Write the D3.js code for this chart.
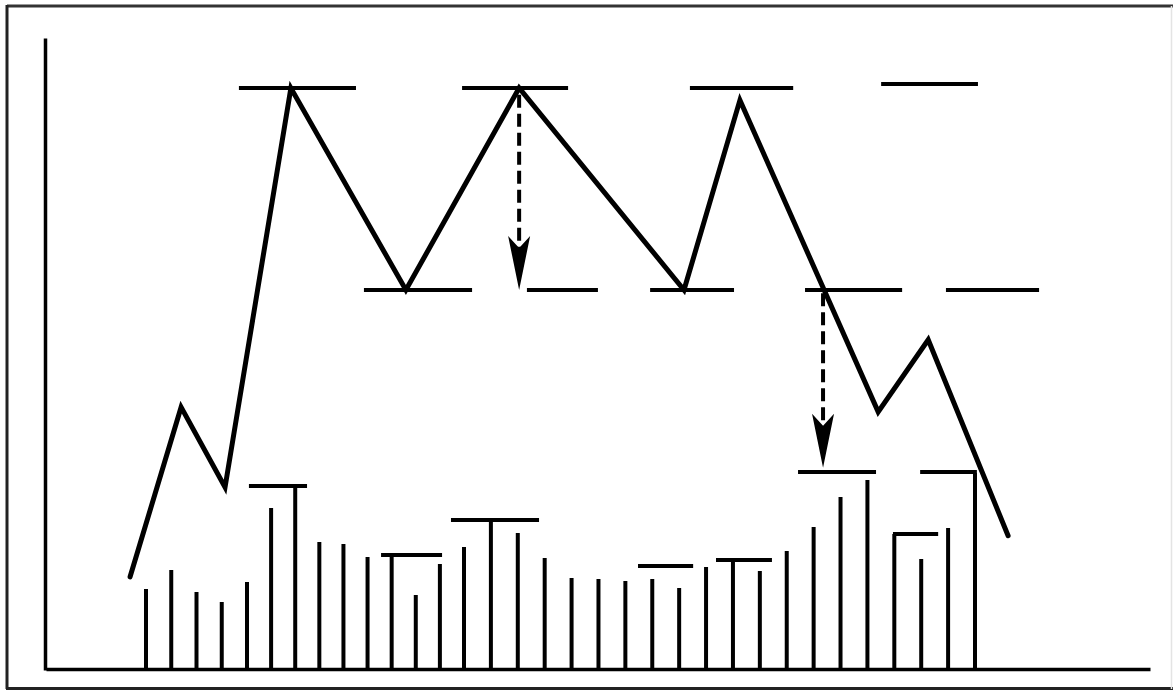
<!DOCTYPE html>
<html>
<head>
<meta charset="utf-8">
<script src="https://cdn.jsdelivr.net/npm/d3@7"></script>
<style>
  html, body { margin: 0; padding: 0; background: #fff; }
  svg { display: block; }
</style>
</head>
<body>
<script>
// ---- Data ----
// Volume bars, one per session (index 0..32)
const sessions = d3.range(33);
const volume = [39.5, 49, 38, 33, 43, 80, 91, 63, 62, 55.5, 57, 36.5, 52, 60.5, 74, 67.5, 55,
                45, 44.5, 43.5, 44.5, 40, 50.5, 54, 48.5, 58.5, 70.5, 85.5, 94, 67, 54.5, 70, 97.5];

// Price zig-zag turning points (session position, price)
const priceT = [-0.63, 1.39, 3.13, 5.82, 10.59, 15.05, 21.18, 23.26, 28.40, 30.26, 33.23];
const priceV = [27.4, 52.6, 40.7, 100, 70, 100, 70, 98.2, 51.9, 62.6, 33.5];

// Resistance segments (top level)
const resStart = [3.68, 12.92, 21.40, 28.51];
const resEnd   = [8.52, 16.87, 25.24, 32.11];
const resLevel = [100, 100, 100, 100.6];

// Support segments (middle level)
const supStart = [8.85, 15.34, 19.92, 25.68, 30.92];
const supEnd   = [13.30, 17.98, 23.04, 29.29, 34.38];
const supLevel = [70, 70, 70, 70, 70];

// Volume level segments
const volStart = [4.08, 9.56, 12.46, 19.47, 22.37, 25.42, 28.95, 29.96];
const volEnd   = [6.49, 12.09, 15.79, 21.52, 24.45, 28.32, 30.63, 32.07];
const volLevel = [91, 56.5, 74, 51, 54, 98, 67, 98];

// Dashed projection arrows (session, from price, to price)
const arrowT    = [15.05, 26.35];
const arrowFrom = [99, 69.5];
const arrowTo   = [70, 43.6];

// Session axis of the hand-drawn chart (spacing is not perfectly even)
const sessionKnots = [-4.08, 0, 4, 13, 32, 38.5];
const sessionPx    = [43, 146, 247, 464, 975, 1150];

// ---- Layout ----
const W = 1173, H = 691;
const svg = d3.select("body").append("svg").attr("width", W).attr("height", H);

const x = d3.scaleLinear().domain(sessionKnots).range(sessionPx);
const yPrice = d3.scaleLinear().domain([70, 100]).range([290, 88]);
const yVol = d3.scaleLinear().domain([0, 100]).range([668, 468]);

// Outer frame
const frame = svg.append("g").attr("stroke", "#222").attr("stroke-width", 3).attr("fill", "none");
frame.append("line").attr("x1", 7).attr("y1", 6).attr("x2", W).attr("y2", 6).attr("stroke", "#333");
frame.append("line").attr("x1", 7).attr("y1", 5).attr("x2", 7).attr("y2", 689);
frame.append("line").attr("x1", 6).attr("y1", 688.5).attr("x2", W).attr("y2", 688.5);
frame.append("line").attr("x1", 1171.5).attr("y1", 6).attr("x2", 1171.5).attr("y2", 689)
  .attr("stroke", "#e4e4e4").attr("stroke-width", 1.5);

// Volume bars
svg.append("g").selectAll("line").data(sessions).join("line")
  .attr("x1", d => x(d)).attr("x2", d => x(d))
  .attr("y1", yVol(0)).attr("y2", d => yVol(volume[d]))
  .attr("stroke", "#000").attr("stroke-width", 4).attr("stroke-linecap", "butt");

// Volume levels
svg.append("g").selectAll("line").data(volStart).join("line")
  .attr("x1", (d, i) => x(d)).attr("x2", (d, i) => x(volEnd[i]))
  .attr("y1", (d, i) => yVol(volLevel[i])).attr("y2", (d, i) => yVol(volLevel[i]))
  .attr("stroke", "#000").attr("stroke-width", 4);

// Resistance & support levels
svg.append("g").selectAll("line").data(resStart).join("line")
  .attr("x1", d => x(d)).attr("x2", (d, i) => x(resEnd[i]))
  .attr("y1", (d, i) => yPrice(resLevel[i])).attr("y2", (d, i) => yPrice(resLevel[i]))
  .attr("stroke", "#000").attr("stroke-width", 4);
svg.append("g").selectAll("line").data(supStart).join("line")
  .attr("x1", d => x(d)).attr("x2", (d, i) => x(supEnd[i]))
  .attr("y1", (d, i) => yPrice(supLevel[i])).attr("y2", (d, i) => yPrice(supLevel[i]))
  .attr("stroke", "#000").attr("stroke-width", 4);

// Price line
const pts = priceT.map((t, i) => [t, priceV[i]]);
svg.append("path").datum(pts)
  .attr("d", d3.line().x(d => x(d[0])).y(d => yPrice(d[1])))
  .attr("fill", "none").attr("stroke", "#000").attr("stroke-width", 5)
  .attr("stroke-linejoin", "miter").attr("stroke-miterlimit", 10).attr("stroke-linecap", "round");

// Dashed arrows
const ag = svg.append("g");
arrowT.forEach((t, i) => {
  const ax = x(t), y0 = yPrice(arrowFrom[i]), y1 = yPrice(arrowTo[i]);
  ag.append("line").attr("x1", ax).attr("x2", ax).attr("y1", y0).attr("y2", y1 - 30)
    .attr("stroke", "#000").attr("stroke-width", 4).attr("stroke-dasharray", "13,6");
  ag.append("path")
    .attr("d", `M${ax},${y1} L${ax - 11},${y1 - 54} L${ax},${y1 - 42} L${ax + 11},${y1 - 54} Z`)
    .attr("fill", "#000");
});

// Axes (lines only)
svg.append("g").attr("transform", "translate(0,669)")
  .call(d3.axisBottom(d3.scaleLinear().range([46, 1150])).ticks(0).tickSizeOuter(0))
  .call(g => g.select(".domain").attr("stroke", "#000").attr("stroke-width", 3.5));
svg.append("g").attr("transform", "translate(45,0)")
  .call(d3.axisLeft(d3.scaleLinear().range([670, 38])).ticks(0).tickSizeOuter(0))
  .call(g => g.select(".domain").attr("stroke", "#000").attr("stroke-width", 3.5));
</script>
</body>
</html>
